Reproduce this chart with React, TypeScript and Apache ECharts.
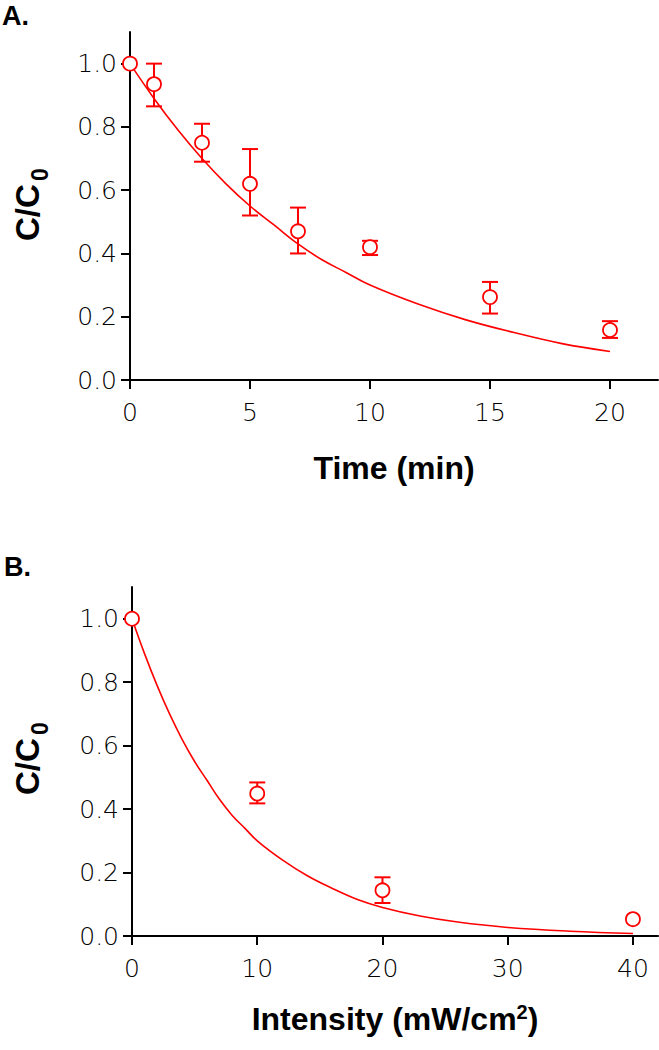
import React, { useEffect, useRef } from "react";
import * as echarts from "echarts";

// Panel A: time dependence
const timeMin = [0, 1, 3, 5, 7, 10, 15, 20];
const timeMean = [1.0, 0.935, 0.75, 0.62, 0.47, 0.42, 0.262, 0.158];
const timeLow = [null, 0.865, 0.69, 0.52, 0.4, 0.395, 0.21, 0.133];
const timeHigh = [null, 1.0, 0.81, 0.73, 0.545, 0.44, 0.31, 0.186];
const timeFitX = [0, 1, 2, 3, 4, 5, 6, 7, 8, 9, 10, 12, 14, 16, 18, 20];
const timeFitY = [1.0, 0.89, 0.79, 0.7, 0.62, 0.55, 0.49, 0.43, 0.38, 0.34, 0.3, 0.24, 0.19, 0.15, 0.115, 0.09];
const timeTicks = [0, 5, 10, 15, 20];

// Panel B: intensity dependence
const intensity = [0, 10, 20, 40];
const intMean = [1.0, 0.449, 0.144, 0.053];
const intLow = [null, 0.418, 0.104, null];
const intHigh = [null, 0.484, 0.185, null];
const intFitX = [0, 1, 2, 3, 4, 5, 6, 7, 8, 9, 10, 12, 14, 16, 18, 20, 23, 26, 30, 35, 40];
const intFitY = [1.0, 0.89, 0.79, 0.7, 0.62, 0.55, 0.49, 0.43, 0.38, 0.34, 0.3, 0.24, 0.19, 0.15, 0.115, 0.09, 0.063, 0.044, 0.027, 0.015, 0.008];
const intTicks = [0, 10, 20, 30, 40];

const yTicks = [0, 0.2, 0.4, 0.6, 0.8, 1.0];

const RED = "#ff0000";
const FONT = "DejaVu Sans";
const TFONT = "Liberation Sans";

export default function App() {
  const ref = useRef<HTMLDivElement>(null);
  useEffect(() => {
    if (!ref.current) return;
    const chart = echarts.init(ref.current, null, { renderer: "svg" });

    const axisCommon = {
      axisLine: { show: true, onZero: false, lineStyle: { color: "#000", width: 2 } },
      axisTick: { show: true, length: 9, lineStyle: { color: "#000", width: 2 } },
      splitLine: { show: false },
      axisLabel: { color: "#000", fontSize: 25, fontFamily: FONT, fontWeight: 200 },
    };

    const xAxis = (idx: number, max: number, ticks: number[], name: any, gap: number, rich: any) => ({
      ...axisCommon,
      type: "value",
      gridIndex: idx,
      min: 0,
      max,
      axisTick: { ...axisCommon.axisTick, customValues: ticks },
      axisLabel: { ...axisCommon.axisLabel, customValues: ticks, margin: 20 },
      name,
      nameLocation: "middle",
      nameGap: gap,
      nameTextStyle: { fontSize: 32, fontWeight: "bold", fontFamily: TFONT, color: "#000", rich },
    });

    const yAxis = (idx: number) => ({
      ...axisCommon,
      type: "value",
      gridIndex: idx,
      min: 0,
      max: 1.1,
      axisTick: { ...axisCommon.axisTick, customValues: yTicks },
      axisLabel: {
        ...axisCommon.axisLabel,
        margin: 13,
        customValues: yTicks,
        formatter: (v: number) => v.toFixed(1),
      },
    });

    const errData = (xs: number[], lo: (number | null)[], hi: (number | null)[]) =>
      xs.map((x, i) => [x, lo[i], hi[i]]).filter((d) => d[1] != null);

    const errSeries = (idx: number, data: any[]) => ({
      type: "custom",
      xAxisIndex: idx,
      yAxisIndex: idx,
      data,
      encode: { x: 0, y: [1, 2] },
      z: 3,
      renderItem: (params: any, api: any) => {
        const x = api.value(0);
        const p1 = api.coord([x, api.value(2)]);
        const p2 = api.coord([x, api.value(1)]);
        const w = 8;
        const st = { stroke: RED, lineWidth: 2 };
        return {
          type: "group",
          children: [
            { type: "line", shape: { x1: p1[0], y1: p1[1], x2: p2[0], y2: p2[1] }, style: st },
            { type: "line", shape: { x1: p1[0] - w, y1: p1[1], x2: p1[0] + w, y2: p1[1] }, style: st },
            { type: "line", shape: { x1: p2[0] - w, y1: p2[1], x2: p2[0] + w, y2: p2[1] }, style: st },
          ],
        };
      },
    });

    const fitSeries = (idx: number, xs: number[], ys: number[]) => ({
      type: "line",
      xAxisIndex: idx,
      yAxisIndex: idx,
      data: xs.map((x, i) => [x, ys[i]]),
      smooth: 0.4,
      symbol: "none",
      lineStyle: { color: RED, width: 1.6 },
      z: 2,
    });

    const ptSeries = (idx: number, xs: number[], ys: number[]) => ({
      type: "scatter",
      xAxisIndex: idx,
      yAxisIndex: idx,
      data: xs.map((x, i) => [x, ys[i]]),
      symbol: "circle",
      symbolSize: 14,
      itemStyle: { color: "#fff", borderColor: RED, borderWidth: 1.8, opacity: 1 },
      z: 5,
    });

    const yTitle = (cy: number) => ({
      type: "group",
      x: 27,
      y: cy,
      rotation: Math.PI / 2,
      children: [
        {
          type: "text",
          x: -37,
          y: 0,
          style: {
            text: "C/C",
            fontSize: 33,
            fontWeight: "bold",
            fontFamily: TFONT,
            fill: "#000",
            align: "left",
            verticalAlign: "middle",
          },
        },
        {
          type: "text",
          x: 23,
          y: 13,
          style: {
            text: "0",
            fontSize: 23,
            fontWeight: "bold",
            fontFamily: TFONT,
            fill: "#000",
            align: "left",
            verticalAlign: "middle",
          },
        },
      ],
    });

    chart.setOption({
      animation: false,
      backgroundColor: "#fff",
      grid: [
        { left: 130, top: 32, width: 528, height: 348 },
        { left: 132, top: 587, width: 526, height: 349 },
      ],
      xAxis: [
        xAxis(0, 22, timeTicks, "Time (min)", 72, {}),
        xAxis(1, 42, intTicks, "{t|Intensity (mW/cm}{p|2}{t|)}", 66, {
          t: { fontSize: 32, fontWeight: "bold", fontFamily: TFONT, lineHeight: 34, color: "#000" },
          p: {
            fontSize: 20,
            fontWeight: "bold",
            fontFamily: TFONT,
            lineHeight: 20,
            verticalAlign: "top",
            color: "#000",
          },
        }),
      ],
      yAxis: [yAxis(0), yAxis(1)],
      series: [
        fitSeries(0, timeFitX, timeFitY),
        errSeries(0, errData(timeMin, timeLow, timeHigh)),
        ptSeries(0, timeMin, timeMean),
        fitSeries(1, intFitX, intFitY),
        errSeries(1, errData(intensity, intLow, intHigh)),
        ptSeries(1, intensity, intMean),
      ],
      graphic: [
        {
          type: "text",
          left: 2,
          top: 2,
          style: { text: "A.", fontSize: 27, fontWeight: "bold", fontFamily: TFONT, fill: "#000" },
        },
        {
          type: "text",
          left: 4,
          top: 553,
          style: { text: "B.", fontSize: 27, fontWeight: "bold", fontFamily: TFONT, fill: "#000" },
        },
        yTitle(204),
        yTitle(758),
      ],
    });

    return () => chart.dispose();
  }, []);

  return (
    <div
      ref={ref}
      style={{ position: "fixed", left: 0, top: 0, width: 659, height: 1050, background: "#fff" }}
    />
  );
}
